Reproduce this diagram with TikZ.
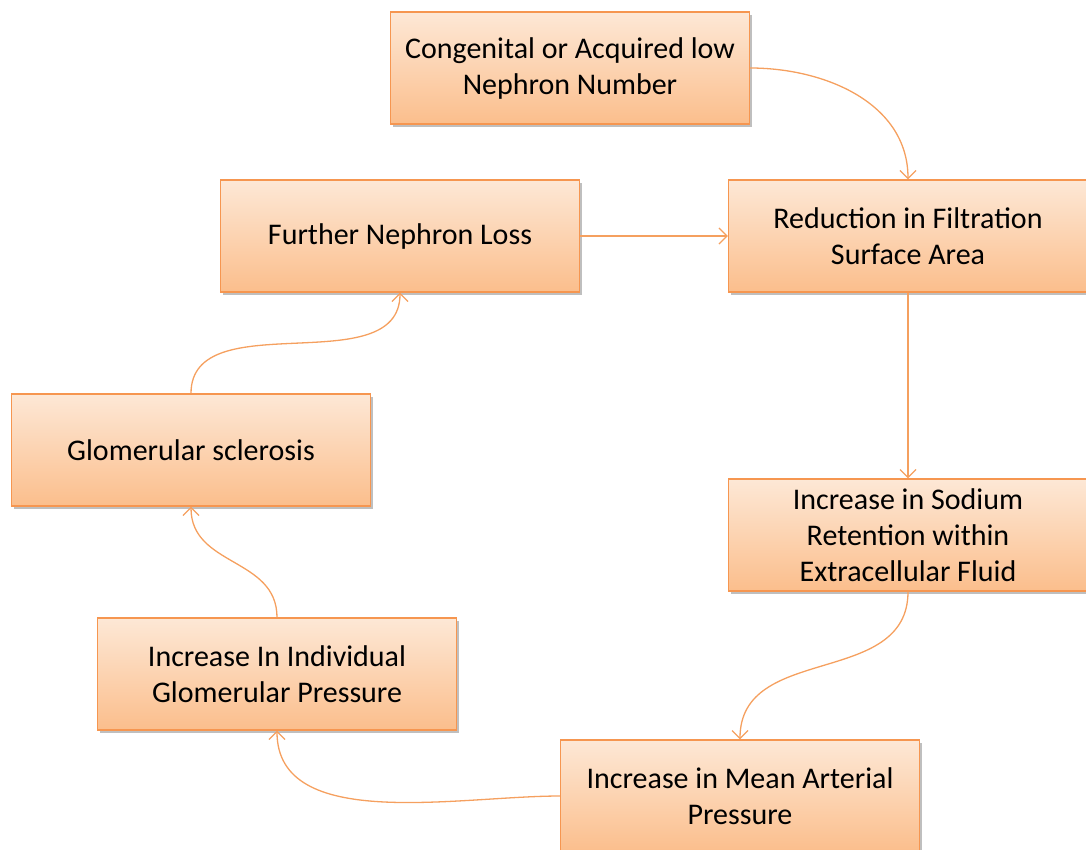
\documentclass[tikz,border=0pt]{standalone}
\usepackage{fontspec}
\setmainfont{Carlito}
\usetikzlibrary{arrows.meta,shadows}
\definecolor{boxtop}{RGB}{253,232,214}
\definecolor{boxbot}{RGB}{251,190,140}
\definecolor{boxline}{RGB}{246,150,80}
\definecolor{arrowc}{RGB}{245,160,95}
\tikzset{
  box/.style={draw=boxline, line width=1.2pt, top color=boxtop, bottom color=boxbot,
    minimum width=359pt, minimum height=112pt, inner sep=0pt, align=center,
    font=\fontsize{30}{36}\selectfont, text=black,
    drop shadow={shadow xshift=2pt, shadow yshift=-3pt, fill=black, opacity=0.25}},
  conn/.style={draw=arrowc, line width=1.3pt, -{Straight Barb[length=8pt,width=16pt,line width=1.3pt]}}
}
\begin{document}
\begin{tikzpicture}[x=1pt,y=-1pt]
\useasboundingbox (0,0) rectangle (1086,849);
\node[box] (cong) at (570,68) {Congenital or Acquired low\\Nephron Number};
\node[box] (red) at (908,236) {Reduction in Filtration\\Surface Area};
\node[box] (fur) at (400,236) {Further Nephron Loss};
\node[box] (glo) at (191,450) {Glomerular sclerosis};
\node[box] (sod) at (908,535) {Increase in Sodium\\Retention within\\Extracellular Fluid};
\node[box] (ind) at (277,674) {Increase In Individual\\Glomerular Pressure};
\node[box] (map) at (740,796) {Increase in Mean Arterial\\Pressure};
\draw[conn] (cong.east) to[out=0,in=90] (red.north);
\draw[conn] (fur.east) -- (red.west);
\draw[conn] (red.south) -- (sod.north);
\draw[conn] (sod.south) to[out=-90,in=90,looseness=1.1] (map.north);
\draw[conn] (map.west) to[out=180,in=-90,looseness=0.9] (ind.south);
\draw[conn] (ind.north) to[out=90,in=-90,looseness=1.1] (glo.south);
\draw[conn] (glo.north) to[out=90,in=-90,looseness=1.0] (fur.south);
\end{tikzpicture}
\end{document}
